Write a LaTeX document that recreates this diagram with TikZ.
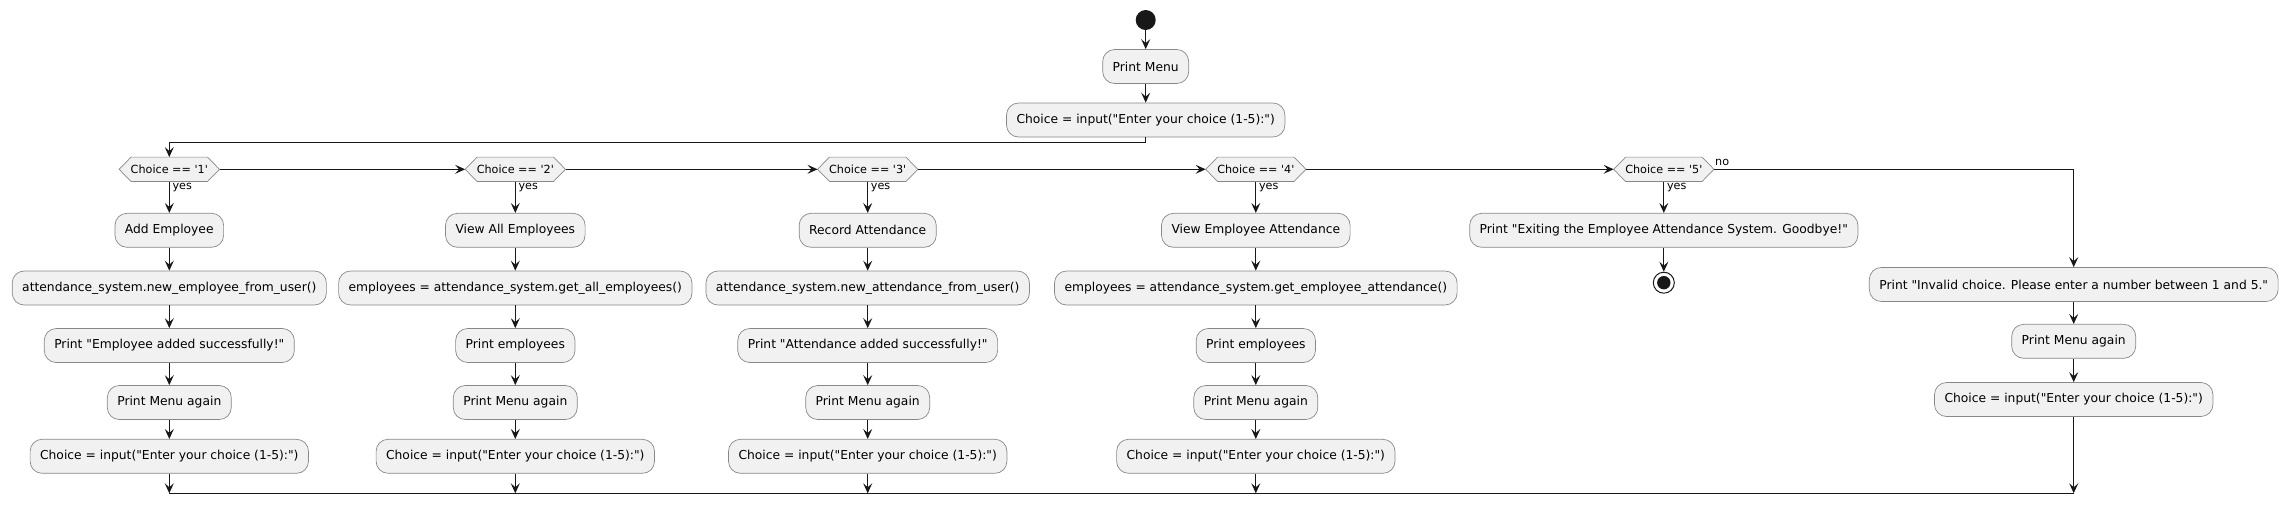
\documentclass[tikz,border=0pt]{standalone}
\usepackage{fontspec}
\setmainfont{DejaVu Sans}[Ligatures=TeXOff]
\usetikzlibrary{arrows.meta,backgrounds,calc}
\definecolor{boxfill}{HTML}{F1F1F1}
\definecolor{boxline}{HTML}{888888}
\definecolor{ink}{HTML}{181818}
\begin{document}
\begin{tikzpicture}[x=1pt,y=-1pt,
  act/.style={rectangle, rounded corners=12pt, draw=boxline, line width=0.7pt, fill=boxfill,
    font=\fontsize{12.3}{14}\selectfont, inner xsep=10pt, inner ysep=0pt, minimum height=34pt, text=black},
  dec/.style={rectangle, minimum width=100pt, minimum height=24pt, inner sep=0pt,
    font=\fontsize{11.2}{13}\selectfont},
  lbl/.style={font=\fontsize{11.2}{13}\selectfont, inner sep=0pt, anchor=west},
  flow/.style={draw=ink, line width=1pt, -{Stealth[length=10pt,width=9pt,inset=4pt]}},
  plain/.style={draw=ink, line width=1pt}]
\useasboundingbox (0,0) rectangle (2290,504);

% top
\node[circle, fill=ink, minimum size=20pt, inner sep=0pt] (start) at (1145.7,20) {};
\node[act] (menu) at (1145.7,66.5) {Print Menu};
\node[act] (choice) at (1145.7,120) {Choice = input("Enter your choice (1-5):")};
\coordinate (j0) at (169.3,142.3);

% decisions
\node[dec] (d1) at (169.3,169.3) {Choice == '1'};
\node[dec] (d2) at (515.3,169.3) {Choice == '2'};
\node[dec] (d3) at (867.7,169.3) {Choice == '3'};
\node[dec] (d4) at (1255.8,169.3) {Choice == '4'};
\node[dec] (d5) at (1663.8,169.3) {Choice == '5'};
\begin{scope}[on background layer]
\foreach \n in {d1,d2,d3,d4,d5}
  \draw[draw=boxline, fill=boxfill, line width=0.7pt] (\n.west) -- ([xshift=12pt]\n.north west)
    -- ([xshift=-12pt]\n.north east) -- (\n.east) -- ([xshift=-12pt]\n.south east)
    -- ([xshift=12pt]\n.south west) -- cycle;
\end{scope}

% branch 1
\node[act] (a1) at (169.3,230.3) {Add Employee};
\node[act] (a2) at (169.3,288) {attendance\_system.new\_employee\_from\_user()};
\node[act] (a3) at (169.3,345.5) {Print "Employee added successfully!"};
\node[act] (a4) at (169.3,402.5) {Print Menu again};
\node[act] (a5) at (169.3,456.3) {Choice = input("Enter your choice (1-5):")};
% branch 2
\node[act] (b1) at (515.3,230.3) {View All Employees};
\node[act] (b2) at (515.3,288) {employees = attendance\_system.get\_all\_employees()};
\node[act] (b3) at (515.3,345.5) {Print employees};
\node[act] (b4) at (515.3,402.5) {Print Menu again};
\node[act] (b5) at (515.3,456.3) {Choice = input("Enter your choice (1-5):")};
% branch 3
\node[act] (c1) at (867.7,230.3) {Record Attendance};
\node[act] (c2) at (867.7,288) {attendance\_system.new\_attendance\_from\_user()};
\node[act] (c3) at (867.7,345.5) {Print "Attendance added successfully!"};
\node[act] (c4) at (867.7,402.5) {Print Menu again};
\node[act] (c5) at (867.7,456.3) {Choice = input("Enter your choice (1-5):")};
% branch 4
\node[act] (e1) at (1255.8,230.3) {View Employee Attendance};
\node[act] (e2) at (1255.8,288) {employees = attendance\_system.get\_employee\_attendance()};
\node[act] (e3) at (1255.8,345.5) {Print employees};
\node[act] (e4) at (1255.8,402.5) {Print Menu again};
\node[act] (e5) at (1255.8,456.3) {Choice = input("Enter your choice (1-5):")};
% branch 5
\node[act] (x1) at (1663.8,230.3) {Print "Exiting the Employee Attendance System. Goodbye!"};
\node[circle, draw=ink, line width=1pt, fill=white, minimum size=21pt, inner sep=0pt] (stop) at (1663.8,282.7) {};
\fill[ink] (stop.center) circle (6.7pt);
% branch 6
\node[act] (f1) at (2073.7,284.5) {Print "Invalid choice. Please enter a number between 1 and 5."};
\node[act] (f2) at (2073.7,341.3) {Print Menu again};
\node[act] (f3) at (2073.7,399.5) {Choice = input("Enter your choice (1-5):")};

% merge coordinates
\coordinate (m1) at (169.3,493.3);
\coordinate (m2) at (515.3,493.3);
\coordinate (m3) at (867.7,493.3);
\coordinate (m4) at (1255.8,493.3);
\coordinate (m6) at (2073.7,493.3);

% connectors
\draw[flow] (start) -- (menu);
\draw[flow] (menu) -- (choice);
\draw[flow] (choice.south) |- (j0) -- (d1.north);
\draw[flow] (d1.east) -- (d2.west);
\draw[flow] (d2.east) -- (d3.west);
\draw[flow] (d3.east) -- (d4.west);
\draw[flow] (d4.east) -- (d5.west);
\draw[flow] (d5.east) -| (f1.north);

\draw[flow] (d1) -- (a1); \draw[flow] (a1) -- (a2); \draw[flow] (a2) -- (a3);
\draw[flow] (a3) -- (a4); \draw[flow] (a4) -- (a5); \draw[flow] (a5) -- (m1);
\draw[flow] (d2) -- (b1); \draw[flow] (b1) -- (b2); \draw[flow] (b2) -- (b3);
\draw[flow] (b3) -- (b4); \draw[flow] (b4) -- (b5); \draw[flow] (b5) -- (m2);
\draw[flow] (d3) -- (c1); \draw[flow] (c1) -- (c2); \draw[flow] (c2) -- (c3);
\draw[flow] (c3) -- (c4); \draw[flow] (c4) -- (c5); \draw[flow] (c5) -- (m3);
\draw[flow] (d4) -- (e1); \draw[flow] (e1) -- (e2); \draw[flow] (e2) -- (e3);
\draw[flow] (e3) -- (e4); \draw[flow] (e4) -- (e5); \draw[flow] (e5) -- (m4);
\draw[flow] (d5) -- (x1); \draw[flow] (x1) -- (stop);
\draw[flow] (f1) -- (f2); \draw[flow] (f2) -- (f3); \draw[flow] (f3) -- (m6);
\draw[plain] (m1) -- (m6);

% labels
\node[lbl] at (172.3,188) {yes};
\node[lbl] at (518.3,188) {yes};
\node[lbl] at (870.7,188) {yes};
\node[lbl] at (1258.8,188) {yes};
\node[lbl] at (1666.8,188) {yes};
\node[lbl] at (1715,162) {no};
\end{tikzpicture}
\end{document}
